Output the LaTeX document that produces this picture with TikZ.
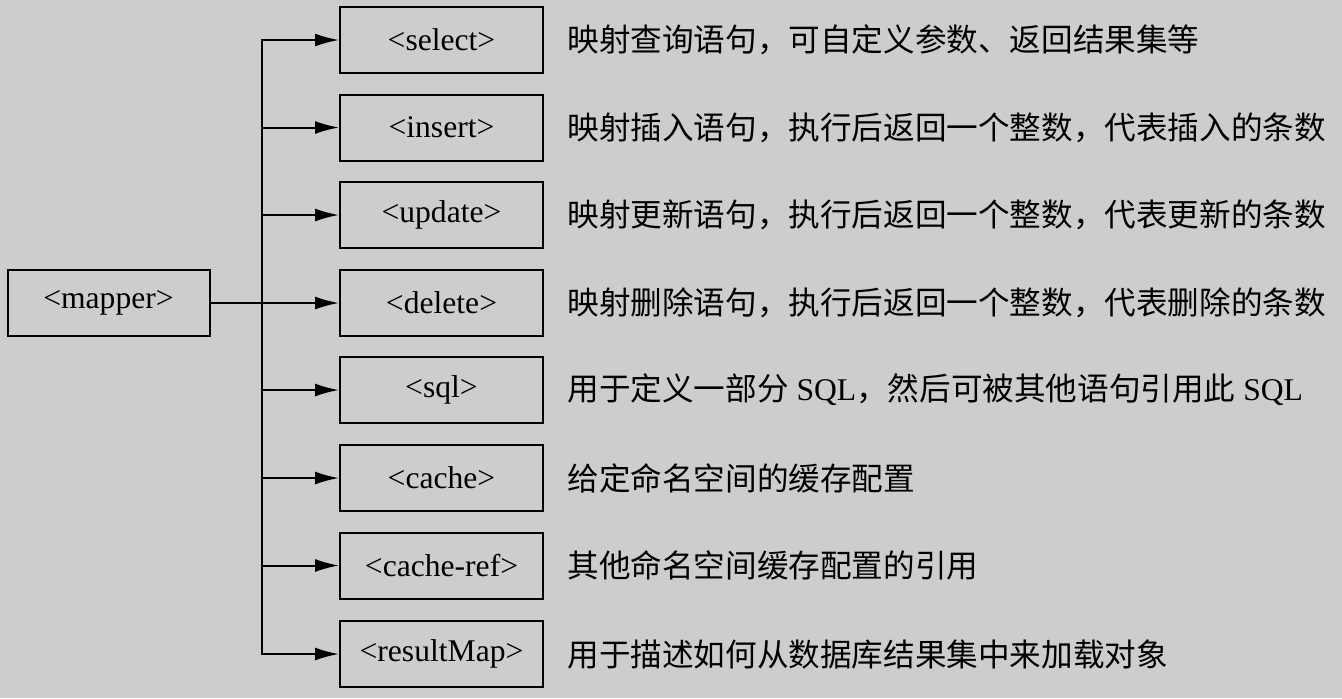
\documentclass[tikz,border=0pt]{standalone}
\usepackage{fontspec}
\setmainfont{Liberation Serif}
\newfontfamily\cjk{Noto Sans CJK SC}
\usetikzlibrary{arrows.meta}
\definecolor{bggray}{RGB}{205,205,205}

\begin{document}
\begin{tikzpicture}[x=0.5pt, y=-0.5pt, every node/.style={font=\fontsize{15.8}{18}\selectfont},
  box/.style={draw, line width=1pt, minimum width=101.5pt, minimum height=33pt, inner sep=0pt},
  desc/.style={anchor=west, inner sep=0pt},
  arr/.style={-{Latex[length=12pt,width=6.5pt]}, line width=1pt}]
  \fill[bggray] (0,0) rectangle (1342,698);
  % left node
  \node[box, minimum width=101pt] (mapper) at (108.5,303) {<mapper>};
  \coordinate (trunk) at (262,303);
  % element boxes
  \node[box] (select) at (441.5,40) {<select>};
  \node[box] (insert) at (441.5,127.5) {<insert>};
  \node[box] (update) at (441.5,215) {<update>};
  \node[box] (delete) at (441.5,303) {<delete>};
  \node[box] (sql) at (441.5,390) {<sql>};
  \node[box] (cache) at (441.5,478) {<cache>};
  \node[box] (cacheref) at (441.5,565.5) {<cache-ref>};
  \node[box] (resultmap) at (441.5,654) {<resultMap>};
  % descriptions
  \node[desc] (dselect) at (567,40) {\cjk 映射查询语句，可自定义参数、返回结果集等};
  \node[desc] (dinsert) at (567,127.5) {\cjk 映射插入语句，执行后返回一个整数，代表插入的条数};
  \node[desc] (dupdate) at (567,215) {\cjk 映射更新语句，执行后返回一个整数，代表更新的条数};
  \node[desc] (ddelete) at (567,303) {\cjk 映射删除语句，执行后返回一个整数，代表删除的条数};
  \node[desc] (dsql) at (567,390) {{\cjk 用于定义一部分} SQL{\cjk ，然后可被其他语句引用此} SQL};
  \node[desc] (dcache) at (567,478) {\cjk 给定命名空间的缓存配置};
  \node[desc] (dcacheref) at (567,565.5) {\cjk 其他命名空间缓存配置的引用};
  \node[desc] (dresultmap) at (567,654) {\cjk 用于描述如何从数据库结果集中来加载对象};
  % connectors
  \draw[arr] (mapper.east) -- (delete.west);
  \foreach \n in {select,insert,update,sql,cache,cacheref,resultmap}
    \draw[arr] (trunk) |- (\n.west);
\end{tikzpicture}
\end{document}
